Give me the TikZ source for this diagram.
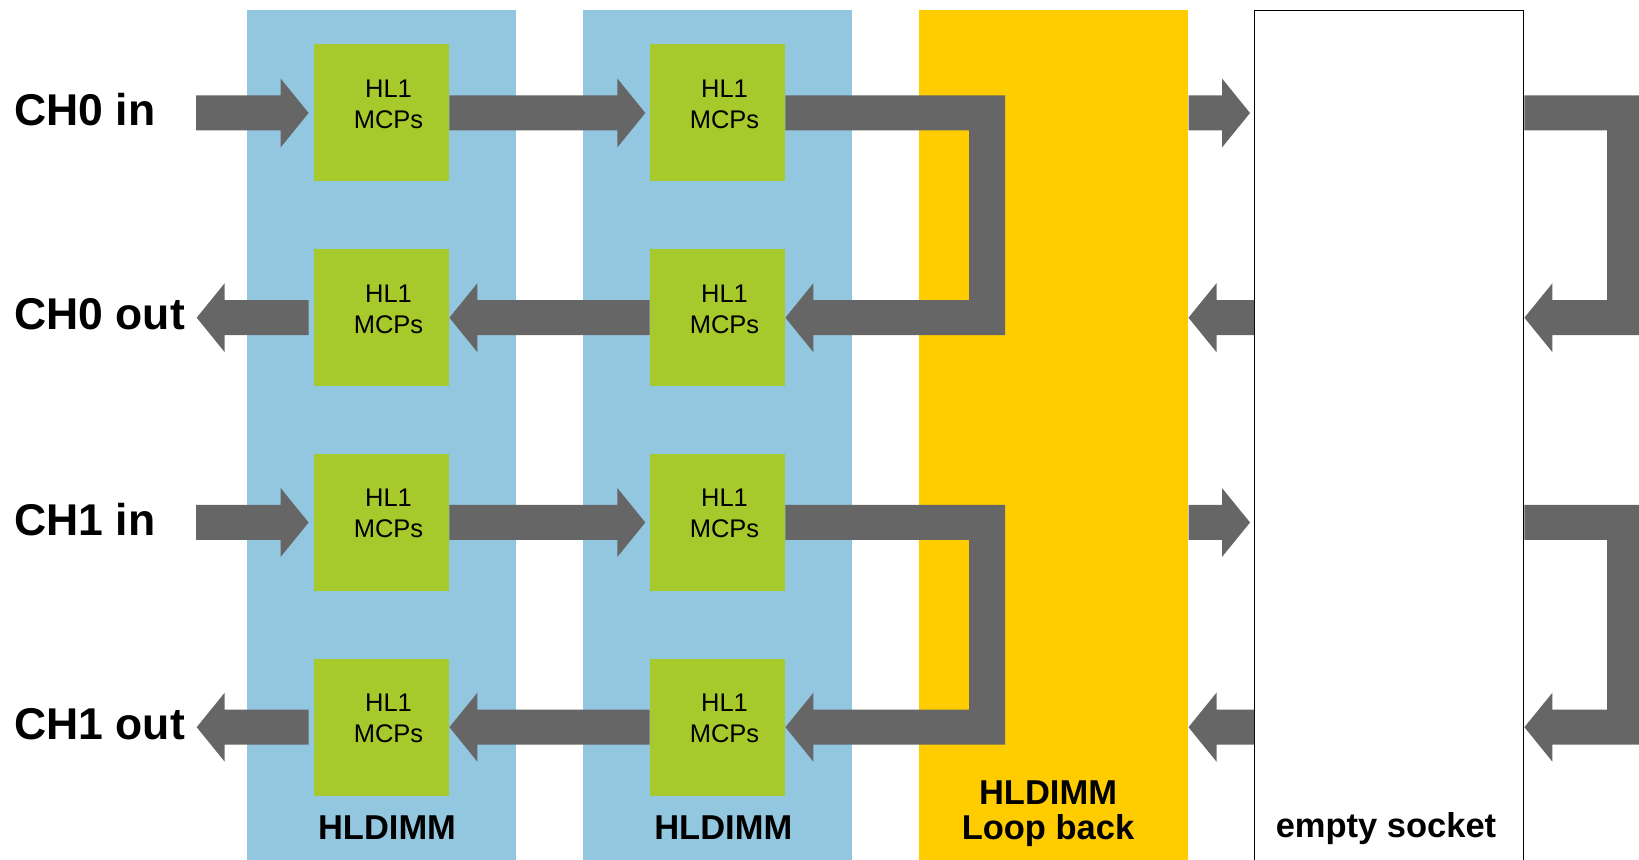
\documentclass[tikz,border=0pt]{standalone}
\usepackage{fontspec}
\setmainfont{Liberation Sans}
\usetikzlibrary{calc}

\definecolor{dimmblue}{HTML}{93C7E0}
\definecolor{mcpgreen}{HTML}{A6C92B}
\definecolor{loopyellow}{HTML}{FFCC00}
\definecolor{arrowgray}{HTML}{666666}

% block arrow with shaft starting at #1 and tip at #2 (same height), pointing right
\newcommand\rblock[2]{%
  \fill[arrowgray] ($(#1)+(0,-17.5)$) -- ($(#2)+(-28,-17.5)$) -- ($(#2)+(-28,-34.5)$)
    -- (#2) -- ($(#2)+(-28,34.5)$) -- ($(#2)+(-28,17.5)$) -- ($(#1)+(0,17.5)$) -- cycle;}
% the same, pointing left
\newcommand\lblock[2]{%
  \fill[arrowgray] ($(#1)+(0,-17.5)$) -- ($(#2)+(28,-17.5)$) -- ($(#2)+(28,-34.5)$)
    -- (#2) -- ($(#2)+(28,34.5)$) -- ($(#2)+(28,17.5)$) -- ($(#1)+(0,17.5)$) -- cycle;}
% U-turn block arrow: right from #1, down along the bar at #3, left into tip #2
\newcommand\uturn[3]{%
  \fill[arrowgray] ($(#1)+(0,-17.5)$) -- ($(#3 |- #1)+(18,-17.5)$) -- ($(#3 |- #2)+(18,17.5)$)
    -- ($(#2)+(28,17.5)$) -- ($(#2)+(28,34.5)$) -- (#2) -- ($(#2)+(28,-34.5)$)
    -- ($(#2)+(28,-17.5)$) -- ($(#3 |- #2)+(-18,-17.5)$) -- ($(#3 |- #1)+(-18,17.5)$)
    -- ($(#1)+(0,17.5)$) -- cycle;}

\begin{document}
\begin{tikzpicture}[x=0.5pt,y=-0.5pt,
  panel/.style={anchor=north west,inner sep=0pt,minimum width=134.35pt,minimum height=430pt},
  mcp/.style={fill=mcpgreen,inner sep=0pt,minimum width=67.5pt,minimum height=68.5pt},
  mcptext/.style={font=\fontsize{12.75pt}{15.5pt}\selectfont,align=center,inner sep=0pt},
  chlabel/.style={font=\fontsize{22.25pt}{26pt}\selectfont\bfseries,anchor=base west,inner sep=0pt},
  dimmlabel/.style={font=\fontsize{17.25pt}{17.5pt}\selectfont\bfseries,inner sep=0pt}]
\useasboundingbox (0,0) rectangle (1639,860);
\clip (0,0) rectangle (1639,860);

% module panels
\node[panel,fill=dimmblue] (pan1) at (247,10) {};
\node[panel,fill=dimmblue] (pan2) at (583,10) {};
\node[panel,fill=loopyellow] (yel) at (919,10) {};
\node[panel,draw=black,line width=0.7pt,minimum width=134.5pt] (sock) at (1254,10) {};

% MCP blocks
\foreach \r/\y in {1/113,2/317.7,3/522.5,4/727.2}{
  \node[mcp] (b\r1) at (381.5,\y) {};
  \node[mcp] (b\r2) at (717.5,\y) {};
  \node[mcptext] at ($(b\r1)+(7,-8.8)$) {HL1\\MCPs};
  \node[mcptext] at ($(b\r2)+(7,-8.8)$) {HL1\\MCPs};
}

% bars of the loop-back paths
\coordinate (lbar) at (987,0);
\coordinate (rbar) at (1625,0);

% channels: input row / output row
\foreach \i/\o in {1/2,3/4}{
  % input row
  \coordinate (ins\i) at (196,0 |- b\i1);
  \path ($(b\i1.west)+(-5,0)$) coordinate (int\i);
  \rblock{ins\i}{int\i}
  \path ($(b\i2.west)+(-4.3,0)$) coordinate (mid\i);
  \rblock{b\i1.east}{mid\i}
  \uturn{b\i2.east}{b\o2.east}{lbar}
  \path ($(sock.west |- b\i1)+(-4,0)$) coordinate (skt\i);
  \rblock{yel.east |- b\i1}{skt\i}
  \uturn{sock.east |- b\i1}{sock.east |- b\o1}{rbar}
  % output row
  \path ($(b\o1.west)+(-5,0)$) coordinate (ous\o);
  \coordinate (out\o) at (196.7,0 |- b\o1);
  \lblock{ous\o}{out\o}
  \lblock{b\o2.west}{b\o1.east}
  \lblock{sock.west |- b\o1}{yel.east |- b\o1}
}

% channel labels
\node[chlabel] (ch0in) at (14,125.5) {CH0 in};
\node[chlabel] (ch0out) at (14,330) {CH0 out};
\node[chlabel] (ch1in) at (14,535.5) {CH1 in};
\node[chlabel] (ch1out) at (14,739.5) {CH1 out};

% module labels
\node[dimmlabel,anchor=base] (lab1) at (387,839) {HLDIMM};
\node[dimmlabel,anchor=base] (lab2) at (723.3,839) {HLDIMM};
\node[dimmlabel,align=center] (lab3) at (1048,813.8) {HLDIMM\\Loop back};
\node[dimmlabel,anchor=base] (lab4) at (1386,837.5) {empty socket};
\end{tikzpicture}
\end{document}
